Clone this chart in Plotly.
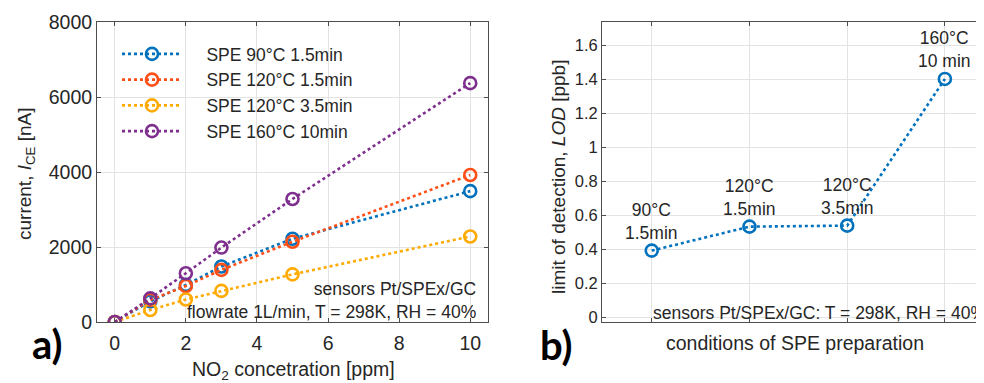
import plotly.graph_objects as go

# ---------------- data ----------------
conc_ppm = [0, 1, 2, 3, 5, 10]
series_names = ["SPE 90°C 1.5min", "SPE 120°C 1.5min", "SPE 120°C 3.5min", "SPE 160°C 10min"]
i_spe90_15 = [0, 550, 990, 1480, 2220, 3490]
i_spe120_15 = [0, 590, 960, 1390, 2140, 3920]
i_spe120_35 = [0, 320, 600, 830, 1270, 2280]
i_spe160_10 = [0, 630, 1300, 1985, 3280, 6370]
series_values = [i_spe90_15, i_spe120_15, i_spe120_35, i_spe160_10]
series_colors = ["#0072BD", "#FF4F17", "#FFAA00", "#7E2F8E"]

lod_positions = [1, 2, 3, 4]
lod_values = [0.392, 0.533, 0.539, 1.402]
lod_labels = ["90°C<br>1.5min", "120°C<br>1.5min", "120°C<br>3.5min", "160°C<br>10 min"]

xa_ticks = [0, 2, 4, 6, 8, 10]
ya_ticks = [0, 2000, 4000, 6000, 8000]
yb_ticks = [0, 0.2, 0.4, 0.6, 0.8, 1, 1.2, 1.4, 1.6]

# the page body has an 8px default margin, so the figure is placed at (8, 8)
OFF = 8
W, H = 984 - OFF, 383 - OFF
FONT = "Liberation Sans, Arial, sans-serif"
TXT = "#262626"
AXC = "#4d4d4d"
GRID = "#e3e3e3"
NBSP = "\u00a0" * 4


def px(x):
    return (x - OFF) / W


def py(y):
    return 1 - (y - OFF) / H


fig = go.Figure()

for name, vals, col in zip(series_names, series_values, series_colors):
    fig.add_trace(go.Scatter(
        x=conc_ppm, y=vals, name=NBSP + name, mode="lines+markers",
        line=dict(color=col, width=2.6, dash="dot"),
        marker=dict(symbol="circle-open", size=12, color=col, line=dict(width=2.6, color=col)),
        xaxis="x", yaxis="y",
    ))

fig.add_trace(go.Scatter(
    x=lod_positions, y=lod_values, mode="lines+markers", showlegend=False,
    line=dict(color="#0072BD", width=2.6, dash="dot"),
    marker=dict(symbol="circle-open", size=12, color="#0072BD", line=dict(width=2.6, color="#0072BD")),
    xaxis="x2", yaxis="y2",
))

ax_common = dict(showline=True, linecolor=AXC, linewidth=1, mirror="ticks", ticks="inside",
                 ticklen=4, tickcolor=AXC, showgrid=True, gridcolor=GRID, gridwidth=1,
                 zeroline=False, automargin=False, tickfont=dict(family=FONT, color=TXT))

fig.update_layout(
    width=W, height=H, margin=dict(l=0, r=0, t=0, b=0, pad=0, autoexpand=False),
    paper_bgcolor="white", plot_bgcolor="white",
    font=dict(family=FONT, color=TXT),
    xaxis=dict(domain=[px(97), px(488)], range=[-0.5, 10.5], tickvals=xa_ticks,
               anchor="y", ticklabelstandoff=4,
               **{**ax_common, "tickfont": dict(family=FONT, color=TXT, size=19.5)}),
    yaxis=dict(domain=[py(322), py(22)], range=[0, 8000], tickvals=ya_ticks,
               anchor="x", **{**ax_common, "tickfont": dict(family=FONT, color=TXT, size=19.5)}),
    xaxis2=dict(domain=[px(602), 1.0], range=[0.491, 4.40], tickvals=lod_positions,
                showticklabels=False, anchor="y2",
                **ax_common),
    yaxis2=dict(domain=[py(322), py(22)], range=[-0.028, 1.737], tickvals=yb_ticks,
                anchor="x2", **{**ax_common, "mirror": False, "tickfont": dict(family=FONT, color=TXT, size=16.5)}),
    legend=dict(x=px(117), y=py(36), xanchor="left", yanchor="top",
                bgcolor="rgba(0,0,0,0)", font=dict(family=FONT, size=17.5, color=TXT),
                itemwidth=60, tracegroupgap=0),
    showlegend=True,
)

annos = []
# axis titles
annos.append(dict(x=px(26), y=py(174), xref="paper", yref="paper", textangle=-90,
                  xanchor="center", yanchor="middle",
                  text="current, <i>I</i><sub>CE</sub> [nA]", showarrow=False,
                  font=dict(size=19, family=FONT, color=TXT)))
annos.append(dict(x=px(293), y=py(370), xref="paper", yref="paper",
                  xanchor="center", yanchor="middle",
                  text="NO<sub>2</sub> concetration [ppm]", showarrow=False,
                  font=dict(size=19.5, family=FONT, color=TXT)))
annos.append(dict(x=px(558), y=py(177), xref="paper", yref="paper", textangle=-90,
                  xanchor="center", yanchor="middle",
                  text="limit of detection, <i>LOD</i> [ppb]", showarrow=False,
                  font=dict(size=19, family=FONT, color=TXT)))
annos.append(dict(x=px(795), y=py(343), xref="paper", yref="paper",
                  xanchor="center", yanchor="middle",
                  text="conditions of SPE preparation", showarrow=False,
                  font=dict(size=19.5, family=FONT, color=TXT)))
# panel letters
annos.append(dict(x=px(47), y=py(344), xref="paper", yref="paper", text="<b>a)</b>",
                  xanchor="center", yanchor="middle",
                  showarrow=False, font=dict(size=40, family="Lato, sans-serif", color="black", weight=900)))
annos.append(dict(x=px(556), y=py(345), xref="paper", yref="paper", text="<b>b)</b>",
                  xanchor="center", yanchor="middle",
                  showarrow=False, font=dict(size=40, family="Lato, sans-serif", color="black", weight=900)))
# condition notes
annos.append(dict(x=px(478), y=py(300), xref="paper", yref="paper", xanchor="right", yanchor="middle",
                  align="right", text="sensors Pt/SPEx/GC<br>flowrate 1L/min, T = 298K, RH = 40%",
                  showarrow=False, font=dict(size=17.5, family=FONT, color=TXT)))
annos.append(dict(x=px(651), y=py(313), xref="paper", yref="paper", xanchor="left", yanchor="middle",
                  text="sensors Pt/SPEx/GC: T = 298K, RH = 40%",
                  showarrow=False, font=dict(size=17.5, family=FONT, color=TXT)))
# point labels
for xv, yv, lab in zip(lod_positions, lod_values, lod_labels):
    annos.append(dict(x=xv, y=yv, xref="x2", yref="y2", text=lab, showarrow=False,
                      xanchor="center", yanchor="bottom", yshift=6,
                      font=dict(size=17.5, family=FONT, color=TXT)))

fig.update_layout(annotations=annos)

fig.write_html("out.html")
